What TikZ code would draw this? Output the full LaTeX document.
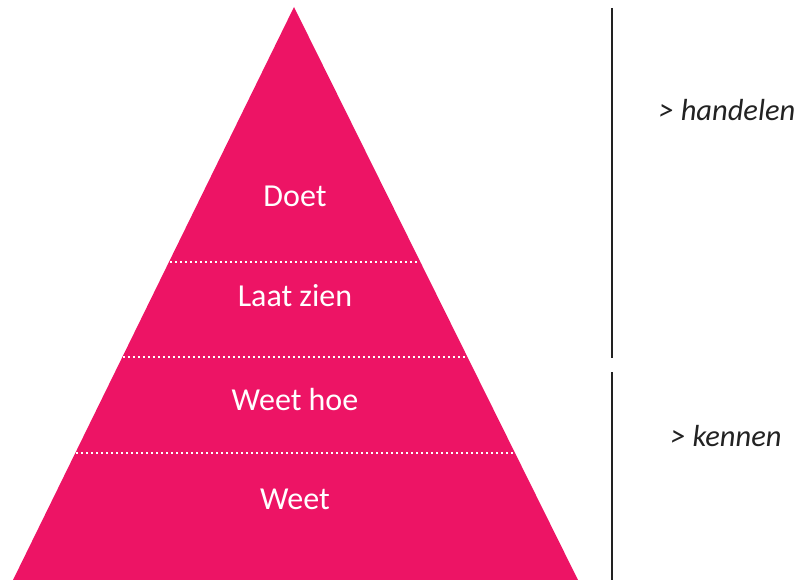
\documentclass[tikz,border=0pt]{standalone}
\usepackage{fontspec}
\setmainfont{Carlito}
\definecolor{pyr}{HTML}{ED1465}
\definecolor{ink}{HTML}{222222}
\begin{document}
\begin{tikzpicture}[x=1pt,y=-1pt,
  lbl/.style={text=white,font=\fontsize{32}{36}\selectfont,anchor=base},
  side/.style={text=ink,font=\fontsize{30.5}{34}\selectfont\itshape,anchor=base},
  sep/.style={white,line width=1.6pt,dash pattern=on 1.6pt off 3.4pt},
  bar/.style={ink,line width=2pt}]
\useasboundingbox (0,0) rectangle (801,580);
\coordinate (apex) at (294,7);
\coordinate (bl) at (13,580);
\coordinate (br) at (578,580);
\fill[pyr] (apex) -- (br) -- (bl) -- cycle;
\coordinate (s1l) at (170,262); \coordinate (s1r) at (420,262);
\coordinate (s2l) at (123,357); \coordinate (s2r) at (467,357);
\coordinate (s3l) at (76,453);  \coordinate (s3r) at (514,453);
\draw[sep] (s1l) -- (s1r);
\draw[sep] (s2l) -- (s2r);
\draw[sep] (s3l) -- (s3r);
\node[lbl] (doet) at (295,207) {Doet};
\node[lbl] (laat) at (295,307) {Laat zien};
\node[lbl] (hoe) at (295,410) {Weet hoe};
\node[lbl] (weet) at (295,509) {Weet};
\coordinate (b1t) at (611.5,8); \coordinate (b1b) at (611.5,358);
\coordinate (b2t) at (611.5,372); \coordinate (b2b) at (611.5,580);
\draw[bar] (b1t) -- (b1b);
\draw[bar] (b2t) -- (b2b);
\node[side] (hand) at (727,121) {> handelen};
\node[side] (kenn) at (726,446) {> kennen};
\end{tikzpicture}
\end{document}
